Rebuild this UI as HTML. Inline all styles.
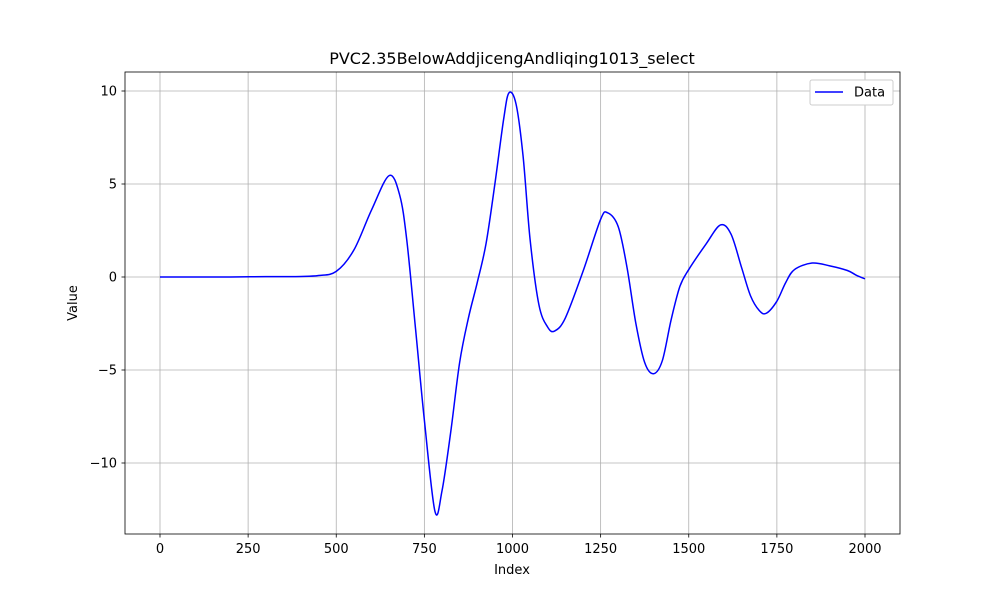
<!DOCTYPE html>
<html><head><meta charset="utf-8"><style>
body{margin:0;background:#fff;font-family:"Liberation Sans","DejaVu Sans",sans-serif}
</style></head><body>
<svg id="chart" width="1000" height="600" xmlns="http://www.w3.org/2000/svg" font-family="DejaVu Sans, Liberation Sans, sans-serif">
<rect width="1000" height="600" fill="#fff"/>
<g id="grid"></g>
<g id="ticks"></g>
<path id="line" fill="none" stroke="#0000ff" stroke-width="1.5"/>
<rect x="125" y="72" width="775" height="462" fill="none" stroke="#000" stroke-width="0.8"/>
<text x="512" y="64" font-size="16" text-anchor="middle">PVC2.35BelowAddjicengAndliqing1013_select</text>
<text x="512" y="574" font-size="13" text-anchor="middle">Index</text>
<text transform="translate(77,303) rotate(-90)" font-size="13" text-anchor="middle">Value</text>
<g>
<rect x="810" y="80" width="83" height="25" rx="2" fill="#fff" stroke="#ccc"/>
<line x1="815" y1="92" x2="843" y2="92" stroke="#0000ff" stroke-width="1.5"/>
<text x="854" y="96.5" font-size="13">Data</text>
</g>
</svg>
<script>
const xs=[0,100,200,300,400,450,500,550,600,650,680,700,725,750,780,800,825,850,875,900,925,950,975,990,1010,1030,1050,1075,1100,1120,1150,1200,1250,1270,1300,1325,1350,1375,1400,1425,1450,1475,1500,1550,1590,1620,1650,1675,1700,1720,1750,1775,1800,1850,1900,1950,1975,2000];
const ys=[0,0,0,0.02,0.03,0.08,0.3,1.45,3.6,5.45,4.4,2,-2.8,-7.7,-12.6,-11.5,-8.3,-4.6,-2.2,-0.3,1.8,5,8.5,9.9,9.3,6.5,2,-1.5,-2.7,-2.9,-2.2,0.3,3.1,3.45,2.7,0.5,-2.5,-4.6,-5.2,-4.5,-2.3,-0.5,0.4,1.8,2.8,2.3,0.5,-1,-1.8,-1.95,-1.3,-0.3,0.4,0.75,0.6,0.35,0.1,-0.1];
const xTicks=[0,250,500,750,1000,1250,1500,1750,2000];
const yTicks=[-10,-5,0,5,10];
const X=v=>160+v*705/2000, Y=v=>277-v*18.6;
const ns="http://www.w3.org/2000/svg";
const grid=document.getElementById('grid'), tk=document.getElementById('ticks');
function mk(tag,at,par){const e=document.createElementNS(ns,tag);for(const k in at)e.setAttribute(k,at[k]);par.appendChild(e);return e;}
xTicks.forEach(t=>{const x=X(t);
const g=mk('line',{x1:x,x2:x,y1:72,y2:534,stroke:'#b0b0b0','stroke-width':0.8},grid);


mk('line',{x1:x,x2:x,y1:534,y2:537.5,stroke:'#000','stroke-width':0.8},tk);
const l=mk('text',{x:x,y:553,'font-size':13,'text-anchor':'middle'},tk);l.textContent=t;

});
yTicks.forEach(t=>{const y=Y(t);
const g=mk('line',{x1:125,x2:900,y1:y,y2:y,stroke:'#b0b0b0','stroke-width':0.8},grid);


mk('line',{x1:121.5,x2:125,y1:y,y2:y,stroke:'#000','stroke-width':0.8},tk);
const l=mk('text',{x:117,y:y+4.5,'font-size':13,'text-anchor':'end'},tk);l.textContent=(t<0?'\u2212'+(-t):t);

});
const P=xs.map((v,i)=>[X(v),Y(ys[i])]);
let d='M'+P[0][0]+','+P[0][1];
for(let i=0;i<P.length-1;i++){const p0=P[Math.max(0,i-1)],p1=P[i],p2=P[i+1],p3=P[Math.min(P.length-1,i+2)];
d+=' C'+(p1[0]+(p2[0]-p0[0])/6)+','+(p1[1]+(p2[1]-p0[1])/6)+' '+(p2[0]-(p3[0]-p1[0])/6)+','+(p2[1]-(p3[1]-p1[1])/6)+' '+p2[0]+','+p2[1];}
document.getElementById('line').setAttribute('d',d);
</script>
</body></html>
